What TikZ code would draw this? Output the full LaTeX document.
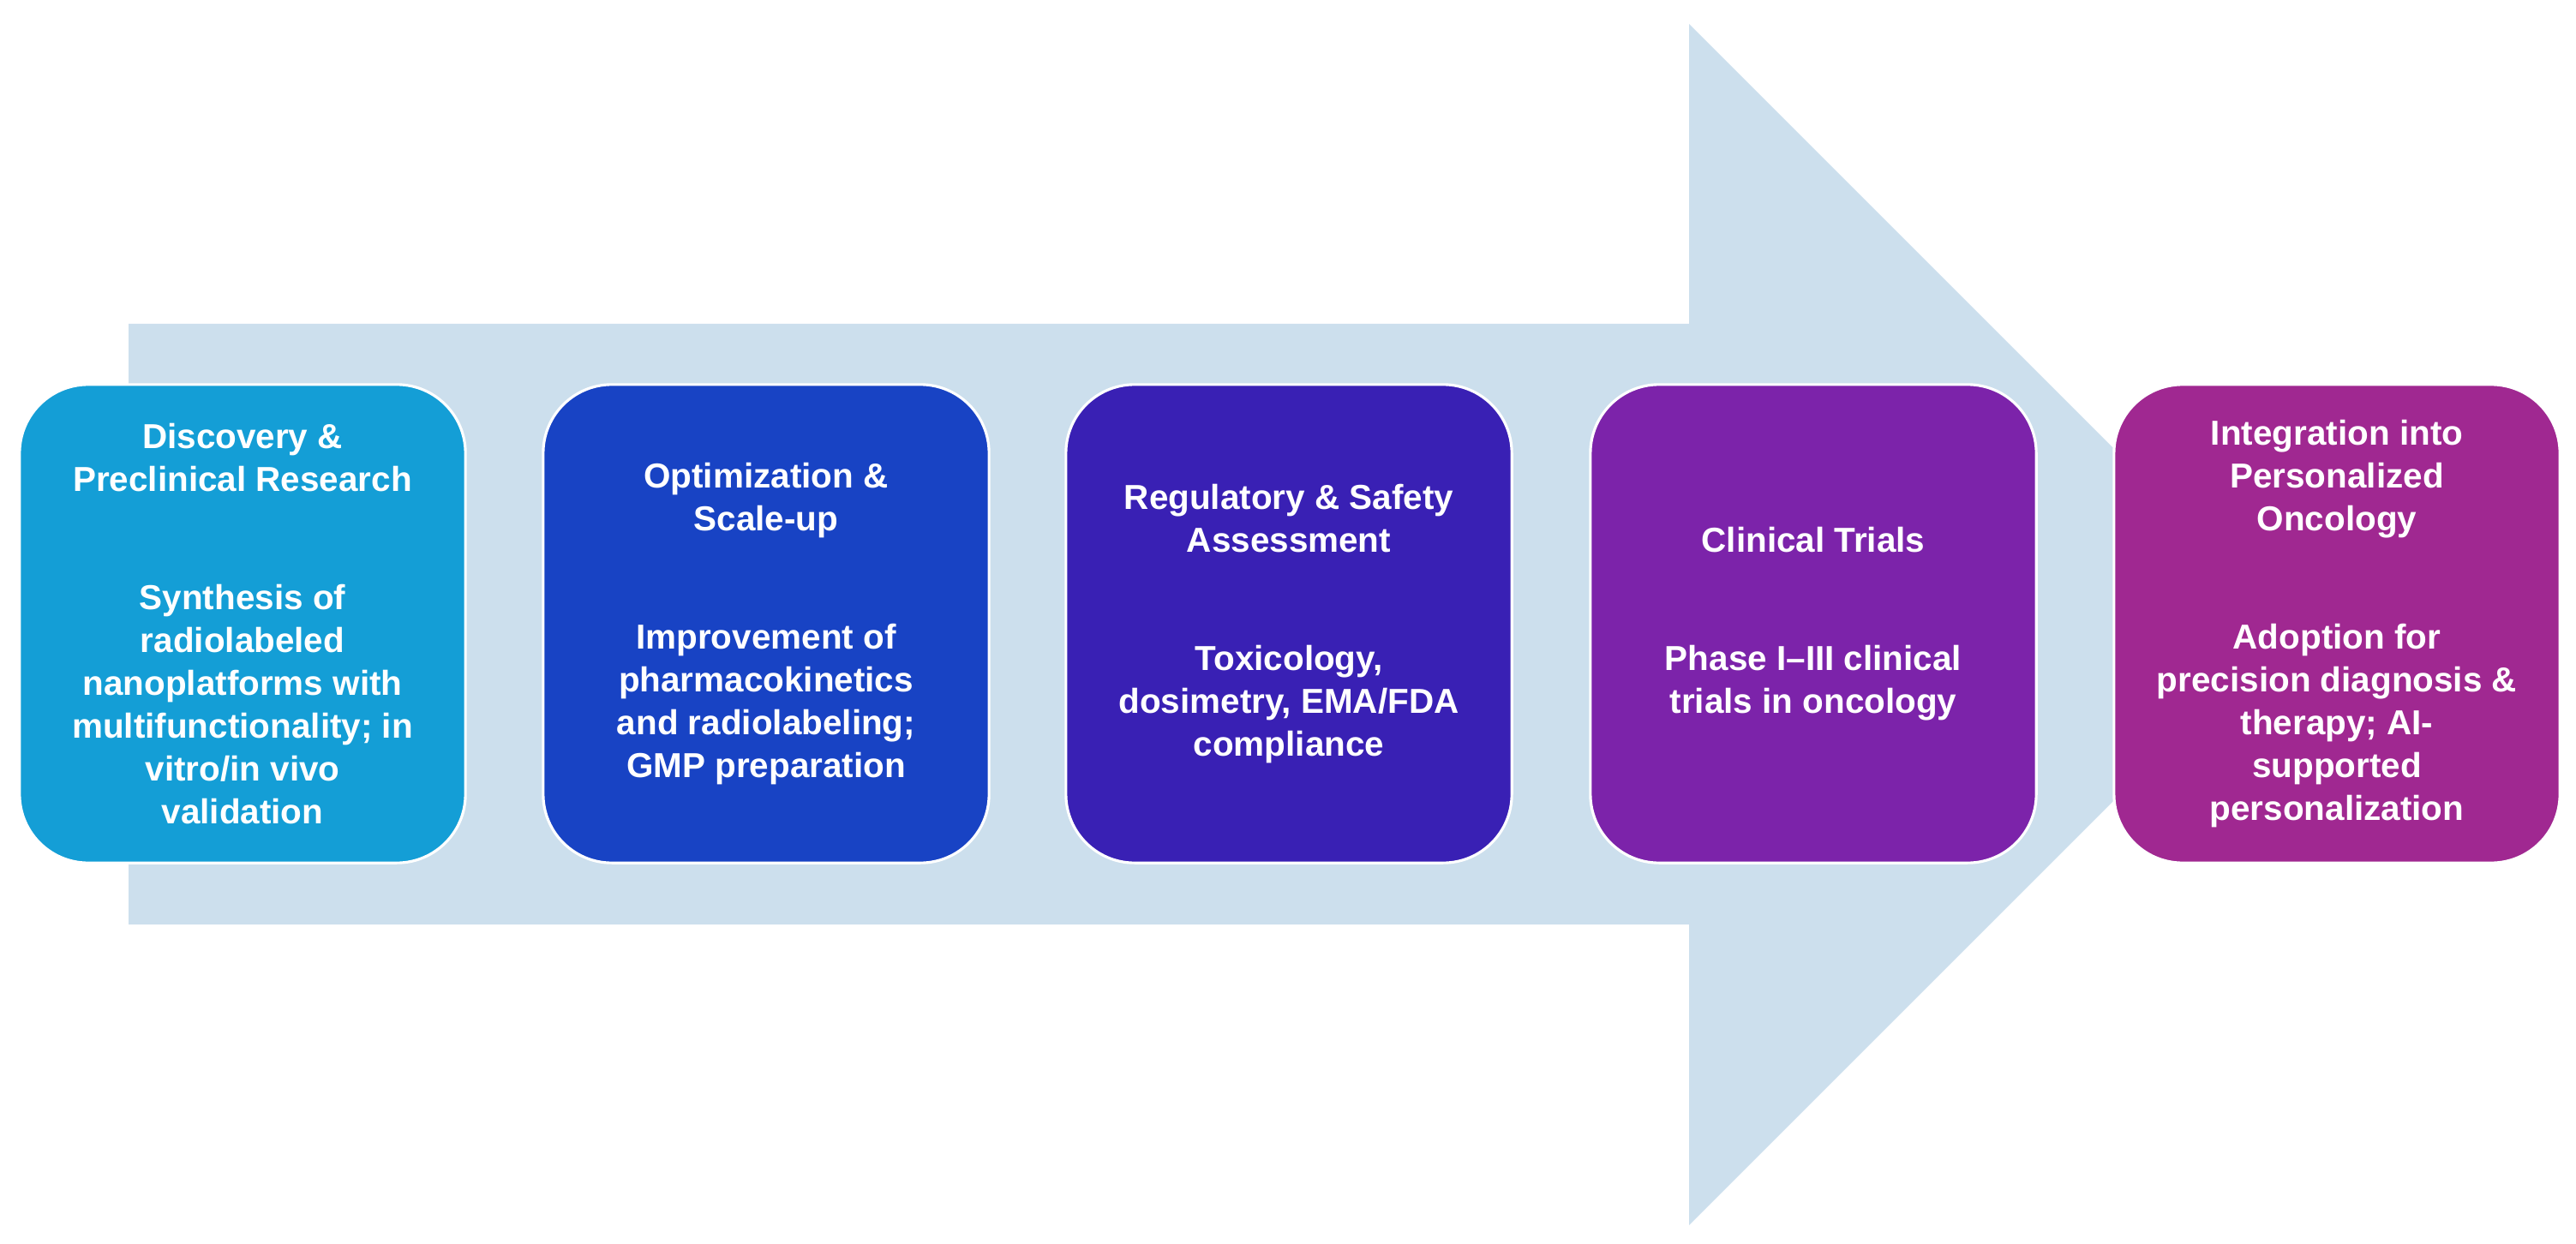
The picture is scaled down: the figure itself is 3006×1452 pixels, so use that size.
\documentclass[tikz,border=0pt]{standalone}
\usepackage{fontspec}
\setmainfont{Liberation Sans}
\definecolor{flowbg}{RGB}{204,223,237}
\definecolor{discov}{RGB}{20,158,214}
\definecolor{optim}{RGB}{24,67,196}
\definecolor{regul}{RGB}{57,32,180}
\definecolor{clinic}{RGB}{124,35,170}
\definecolor{integ}{RGB}{160,40,145}
\tikzset{stagebox/.style={draw=white, line width=0.9pt, rounded corners=0.8cm,
  minimum width=5.2cm, minimum height=5.58cm, align=center, text=white,
  font=\bfseries\fontsize{11.5}{14.2}\selectfont}}

\begin{document}
\begin{tikzpicture}[x=0.01cm,y=-0.01cm]
\useasboundingbox (0,0) rectangle (3006,1452);
% big background arrow
\fill[flowbg] (150,378) -- (1971,378) -- (1971,28) -- (2672,729) -- (1971,1430)
  -- (1971,1079) -- (150,1079) -- cycle;
% stages
\node[stagebox, fill=discov] (discovery) at (283,728)
  {Discovery \&\\Preclinical Research\\[25pt]Synthesis of\\radiolabeled\\nanoplatforms with\\multifunctionality; in\\vitro/in vivo\\validation};
\node[stagebox, fill=optim] (optimization) at (894,728)
  {Optimization \&\\Scale-up\\[25pt]Improvement of\\pharmacokinetics\\and radiolabeling;\\GMP preparation};
\node[stagebox, fill=regul] (regulatory) at (1504,728)
  {Regulatory \& Safety\\Assessment\\[25pt]Toxicology,\\dosimetry, EMA/FDA\\compliance};
\node[stagebox, fill=clinic] (clinical) at (2116,728)
  {Clinical Trials\\[25pt]Phase I--III clinical\\trials in oncology};
\node[stagebox, fill=integ] (integration) at (2727,728)
  {Integration into\\Personalized\\Oncology\\[25pt]Adoption for\\precision diagnosis \&\\therapy; AI-\\supported\\personalization};
\end{tikzpicture}
\end{document}
